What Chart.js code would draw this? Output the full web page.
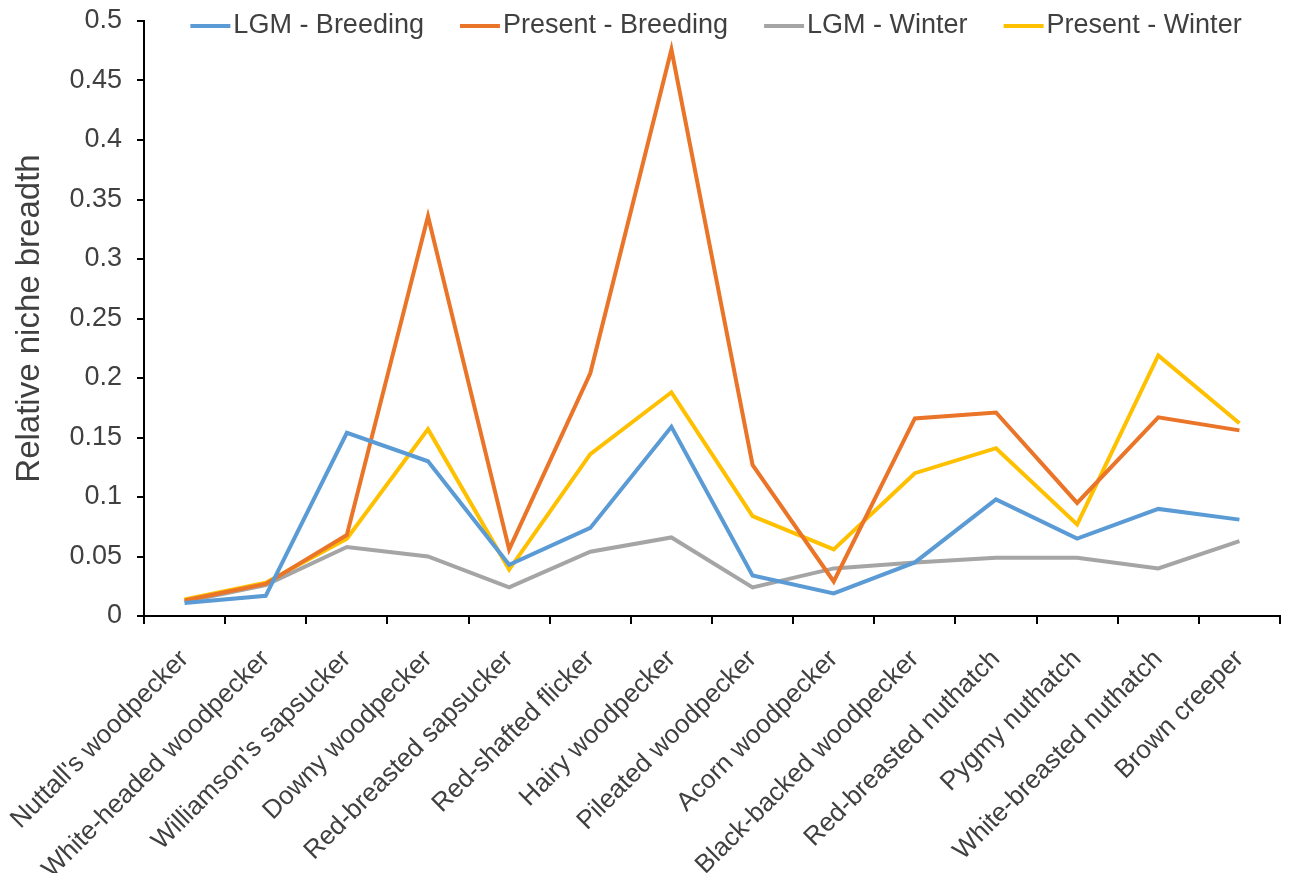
<!DOCTYPE html>
<html>
<head>
<meta charset="utf-8">
<script src="https://cdn.jsdelivr.net/npm/chart.js@4"></script>
<style>
  html, body { margin: 0; padding: 0; background: #fff; }
  #wrap { width: 1290px; height: 873px; }
</style>
</head>
<body>
<div id="wrap"><canvas id="nicheChart" width="1290" height="873"></canvas></div>
<script>
// Species along the x axis
const species = [
    "Nuttall's woodpecker", 'White-headed woodpecker', "Williamson's sapsucker",
    'Downy woodpecker', 'Red-breasted sapsucker', 'Red-shafted flicker',
    'Hairy woodpecker', 'Pileated woodpecker', 'Acorn woodpecker',
    'Black-backed woodpecker', 'Red-breasted nuthatch', 'Pygmy nuthatch',
    'White-breasted nuthatch', 'Brown creeper'
];

// Relative niche breadth
const lgmBreeding     = [0.011, 0.017, 0.154, 0.130, 0.043, 0.074, 0.159, 0.034, 0.019, 0.045, 0.098, 0.065, 0.090, 0.081];
const presentBreeding = [0.013, 0.027, 0.068, 0.336, 0.056, 0.204, 0.476, 0.127, 0.029, 0.166, 0.171, 0.095, 0.167, 0.156];
const lgmWinter       = [0.012, 0.026, 0.058, 0.050, 0.024, 0.054, 0.066, 0.024, 0.040, 0.045, 0.049, 0.049, 0.040, 0.063];
const presentWinter   = [0.014, 0.028, 0.065, 0.157, 0.039, 0.136, 0.188, 0.084, 0.056, 0.120, 0.141, 0.077, 0.219, 0.162];

const seriesNames = ['LGM - Breeding', 'Present - Breeding', 'LGM - Winter', 'Present - Winter'];
const seriesColors = ['#5B9BD5', '#EA7427', '#A5A5A5', '#FFC000'];

const textColor = '#404040';
const fontFamily = "'Liberation Sans', Arial, sans-serif";

// Excel-style legend drawn over the top of the plot area
const topLegend = {
    id: 'topLegend',
    afterDraw(chart) {
        const c = chart.ctx;
        const area = chart.chartArea;
        const lineLen = 40, textGap = 3, itemGap = 36;
        c.save();
        c.font = '27px ' + fontFamily;
        c.textBaseline = 'middle';
        c.textAlign = 'left';
        const items = chart.data.datasets.map(ds => ({
            label: ds.label,
            color: ds.borderColor,
            w: lineLen + textGap + c.measureText(ds.label).width
        }));
        const total = items.reduce((s, it) => s + it.w, 0) + itemGap * (items.length - 1);
        let x = (area.left + area.right) / 2 - total / 2 + 4;
        const y = area.top + 5;
        items.forEach(it => {
            c.strokeStyle = it.color;
            c.lineWidth = 4;
            c.beginPath();
            c.moveTo(x, y);
            c.lineTo(x + lineLen, y);
            c.stroke();
            c.fillStyle = textColor;
            c.fillText(it.label, x + lineLen + textGap, y);
            x += it.w + itemGap;
        });
        c.restore();
    }
};

const seriesData = [lgmBreeding, presentBreeding, lgmWinter, presentWinter];

const ctx = document.getElementById('nicheChart').getContext('2d');
new Chart(ctx, {
    type: 'line',
    data: {
        labels: species,
        datasets: seriesData.map((vals, i) => ({
            label: seriesNames[i],
            data: vals,
            borderColor: seriesColors[i],
            backgroundColor: seriesColors[i],
            borderWidth: 4,
            pointRadius: 0,
            tension: 0,
            fill: false
        }))
    },
    options: {
        responsive: false,
        animation: false,
        layout: { padding: { left: 0, right: 10, top: 21, bottom: 0 } },
        plugins: {
            legend: { display: false },
            tooltip: { enabled: false }
        },
        scales: {
            x: {
                offset: true,
                grid: {
                    offset: true,
                    drawOnChartArea: false,
                    drawTicks: true,
                    tickLength: 8,
                    color: '#000',
                    lineWidth: 2
                },
                border: { color: '#000', width: 2 },
                ticks: {
                    color: textColor,
                    font: { size: 26, family: fontFamily },
                    minRotation: 45,
                    maxRotation: 45,
                    padding: 20,
                    autoSkip: false
                },
                afterFit(scale) {
                    scale.height = 257;
                    scale.paddingLeft = 0;
                    scale.paddingRight = 0;
                }
            },
            y: {
                min: 0,
                max: 0.5,
                grid: {
                    drawOnChartArea: false,
                    drawTicks: true,
                    tickLength: 7,
                    color: '#000',
                    lineWidth: 2
                },
                border: { color: '#000', width: 2 },
                ticks: {
                    stepSize: 0.05,
                    color: textColor,
                    padding: 15,
                    font: { size: 27, family: fontFamily },
                    callback: v => String(Number(v.toFixed(2)))
                },
                title: {
                    display: true,
                    text: 'Relative niche breadth',
                    color: textColor,
                    font: { size: 33, family: fontFamily },
                    padding: { top: 10, bottom: 4 }
                },
                afterFit(scale) {
                    scale.width = 144;
                    scale.paddingTop = 0;
                    scale.paddingBottom = 0;
                }
            }
        }
    },
    plugins: [topLegend]
});
</script>
</body>
</html>
